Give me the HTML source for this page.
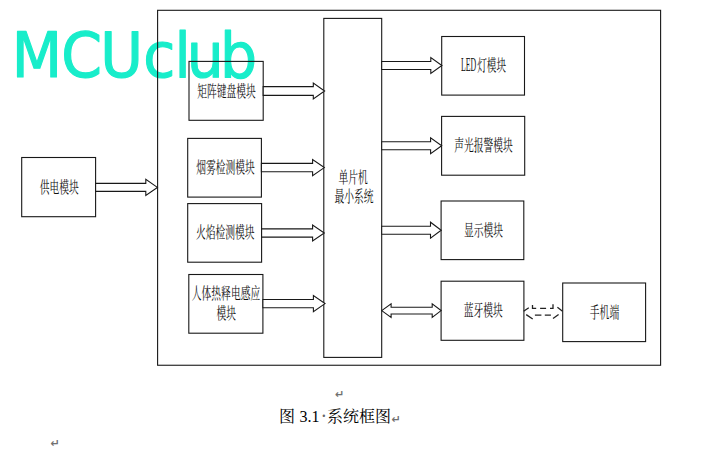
<!DOCTYPE html>
<html lang="zh-CN">
<head>
<meta charset="utf-8">
<title>图 3.1 系统框图</title>
<style>
html,body{margin:0;padding:0;background:#fff;}
body{width:707px;height:463px;overflow:hidden;position:relative;}
svg{display:block;position:absolute;left:0;top:0;}
.wm text{font-family:"DejaVu Sans","Liberation Sans",sans-serif;fill:#18edca;stroke:#18edca;stroke-linejoin:round;stroke-linecap:round;}
.ln{fill:none;stroke:#181818;stroke-width:1.1;}
.ar{fill:#fff;stroke:#181818;stroke-width:1.1;stroke-linejoin:miter;}
.lb text{font-family:"Liberation Mono","Noto Serif CJK SC",serif;font-size:16px;fill:#111;text-anchor:middle;}
.cap text{font-family:"Liberation Serif","Noto Serif CJK SC",serif;font-size:16px;fill:#000;}
.pm text{font-family:"DejaVu Sans","Liberation Sans",sans-serif;font-size:11px;font-weight:bold;fill:#707070;}
</style>
</head>
<body>
<svg width="707" height="463" viewBox="0 0 707 463">
<rect x="0" y="0" width="707" height="463" fill="#fff"/>

<g class="wm"><text transform="scale(0.93,1)" x="12.69 65.76 107.82 153.91 187.56 200.92 236.67" y="77" font-size="62.8" stroke-width="1.2">MCUclub</text></g>
<g class="ln">
<rect x="157.6" y="10.3" width="503.00" height="354.95"/>
<rect x="21.7" y="157.5" width="73.90" height="59.20"/>
<rect x="189.0" y="61.4" width="74.20" height="58.90"/>
<rect x="187.7" y="138.4" width="73.70" height="58.70"/>
<rect x="187.7" y="203.6" width="73.90" height="58.60"/>
<rect x="188.8" y="274.5" width="74.10" height="58.70"/>
<rect x="323.8" y="18.4" width="57.90" height="339.00"/>
<rect x="441.7" y="36.5" width="82.80" height="58.60"/>
<rect x="441.6" y="116.4" width="83.10" height="58.80"/>
<rect x="441.1" y="201.0" width="82.70" height="58.60"/>
<rect x="441.1" y="281.2" width="82.80" height="59.10"/>
<rect x="562.7" y="283.0" width="82.90" height="58.60"/>
</g>
<g class="ar">
<polygon points="95.6,183.4 145.8,183.4 145.8,179.4 157.4,187.4 145.8,195.4 145.8,191.4 95.6,191.4"/>
<polygon points="263.2,86.6 313.3,86.6 313.3,83.0 324.6,91.0 313.3,99.0 313.3,95.4 263.2,95.4"/>
<polygon points="261.4,163.4 312.6,163.4 312.6,159.6 324.3,167.6 312.6,175.6 312.6,171.8 261.4,171.8"/>
<polygon points="261.6,228.9 312.6,228.9 312.6,225.0 324.3,233.0 312.6,241.0 312.6,237.1 261.6,237.1"/>
<polygon points="262.9,299.5 313.4,299.5 313.4,295.6 325.0,303.6 313.4,311.6 313.4,307.7 262.9,307.7"/>
<polygon points="381.7,61.5 430.8,61.5 430.8,57.5 441.9,65.5 430.8,73.5 430.8,69.5 381.7,69.5"/>
<polygon points="381.7,141.8 430.6,141.8 430.6,137.8 441.7,145.8 430.6,153.8 430.6,149.8 381.7,149.8"/>
<polygon points="381.7,226.2 430.5,226.2 430.5,222.2 441.2,230.2 430.5,238.2 430.5,234.2 381.7,234.2"/>
<polygon  points="381.7,310.6 391.1,303.8 391.1,307.2 432.2,307.2 432.2,303.8 441.1,310.6 432.2,317.4 432.2,314.0 391.1,314.0 391.1,317.4"/>
<path style="fill:none;stroke:#222;stroke-width:1.3" d="M523.6 311.2L528.8 307.7M532.5 305.1V308.3H536.2M540.1 308.3H546.1M550 308.3H553V304.3M557.4 307.3L562.5 311.2M526.2 314.6L532.7 319M534.9 315.2H541.4M544.8 315.2H550.9M553 318.5L558.6 314.5"/>
</g>
<g class="lb">
<text transform="translate(59.25,193.3) scale(0.61,1)">供电模块</text>
<text transform="translate(226.5,96.9) scale(0.61,1)">矩阵键盘模块</text>
<text transform="translate(225.6,172.8) scale(0.61,1)">烟雾检测模块</text>
<text transform="translate(225.2,238.20000000000002) scale(0.61,1)">火焰检测模块</text>
<text transform="translate(226,299.09999999999997) scale(0.61,1)">人体热释电感应</text>
<text transform="translate(226.2,319.4) scale(0.61,1)">模块</text>
<text transform="translate(353.2,183.1) scale(0.61,1)">单片机</text>
<text transform="translate(353.9,202.4) scale(0.61,1)">最小系统</text>
<text transform="translate(483.4,151.0) scale(0.61,1)">声光报警模块</text>
<text transform="translate(483.5,235.70000000000002) scale(0.61,1)">显示模块</text>
<text transform="translate(483.2,316.29999999999995) scale(0.61,1)">蓝牙模块</text>
<text transform="translate(604.5,318.2) scale(0.61,1)">手机端</text>
<text style="text-anchor:start" transform="translate(461.0,70.9) scale(0.6,1)"><tspan style="font-family:'Liberation Serif',serif;font-size:18.6px" textLength="25.5" lengthAdjust="spacingAndGlyphs">LED</tspan><tspan dx="1.6">灯模块</tspan></text>
</g>
<g class="cap">
<text y="422"><tspan x="279">图</tspan> <tspan x="299.5">3.1</tspan><tspan x="320.6" dy="1.4" style="font-size:20px;fill:#666">·</tspan><tspan x="327" dy="-1.4">系统框图</tspan></text>
</g>
<g class="pm">
<text x="335" y="398">↵</text>
<text x="391.5" y="423">↵</text>
<text x="50.5" y="447">↵</text>
</g>
</svg>
</body>
</html>
